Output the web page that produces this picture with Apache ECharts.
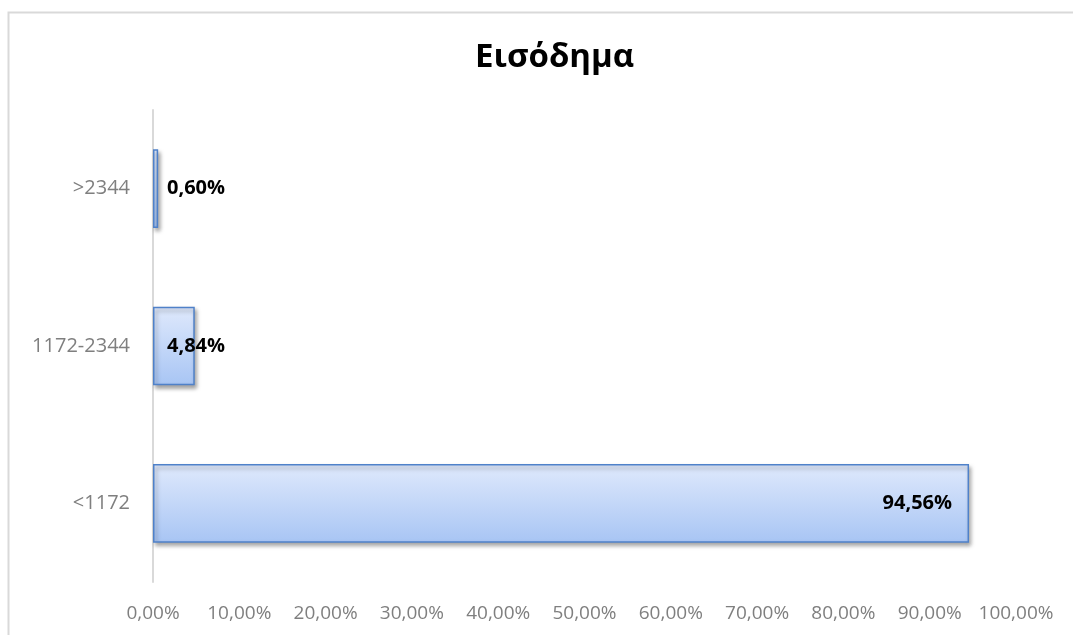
<!DOCTYPE html>
<html>
<head>
<meta charset="utf-8">
<script src="https://cdn.jsdelivr.net/npm/echarts@6/dist/echarts.min.js"></script>
<style>
  html, body { margin: 0; padding: 0; background: #fff; }
  #chart { width: 1073px; height: 635px; }
</style>
</head>
<body>
<div id="chart"></div>
<script>
// Income bands (bottom to top) and their shares in percent
const categories = ['<1172', '1172-2344', '>2344'];
const shares = [94.56, 4.84, 0.60];
const titleText = 'Εισόδημα';

const fmt = v => v.toFixed(2).replace('.', ',') + '%';

const barFill = new echarts.graphic.LinearGradient(0, 0, 0, 1, [
  { offset: 0, color: '#dfe9fc' },
  { offset: 1, color: '#a8c5f4' }
]);

// Long bars carry their label inside the end, short ones just past the axis
const seriesData = shares.map(v => {
  const big = v > 50;
  return {
    value: v,
    label: big
      ? { position: 'insideRight', distance: 17 }
      : { position: 'insideLeft', distance: 14 }
  };
});

const chart = echarts.init(document.getElementById('chart'));
chart.setOption({
  animation: false,
  title: {
    text: titleText,
    left: 470,
    top: 36,
    textStyle: { fontFamily: 'Open Sans', fontWeight: 'bold', fontSize: 33, color: '#000' }
  },
  graphic: [{
    type: 'rect',
    shape: { x: 8.5, y: 12.5, width: 1120, height: 700 },
    style: { fill: 'none', stroke: '#d9d9d9', lineWidth: 2 },
    silent: true,
    z: -1
  }],
  grid: { left: 153, right: 57, top: 110, bottom: 53, containLabel: false },
  xAxis: {
    type: 'value',
    min: 0,
    max: 100,
    interval: 10,
    axisLine: { show: false },
    axisTick: { show: false },
    splitLine: { show: false },
    axisLabel: {
      margin: 22,
      color: '#7f7f7f',
      fontSize: 19,
      fontFamily: 'Open Sans',
      formatter: v => fmt(v)
    }
  },
  yAxis: {
    type: 'category',
    data: categories,
    axisLine: { show: true, lineStyle: { color: '#d9d9d9', width: 2 } },
    axisTick: { show: false },
    axisLabel: {
      margin: 23,
      color: '#7f7f7f',
      fontSize: 20,
      fontFamily: 'Open Sans'
    }
  },
  series: [{
    type: 'bar',
    data: seriesData,
    barCategoryGap: '50%',
    itemStyle: {
      color: barFill,
      borderColor: '#4f81c9',
      borderWidth: 1.5,
      shadowColor: 'rgba(0,0,0,0.35)',
      shadowBlur: 4,
      shadowOffsetX: 2,
      shadowOffsetY: 3
    },
    label: {
      show: true,
      color: '#000',
      fontWeight: 'bold',
      fontSize: 20,
      fontFamily: 'Open Sans',
      formatter: p => fmt(p.value)
    }
  }]
});
</script>
</body>
</html>
